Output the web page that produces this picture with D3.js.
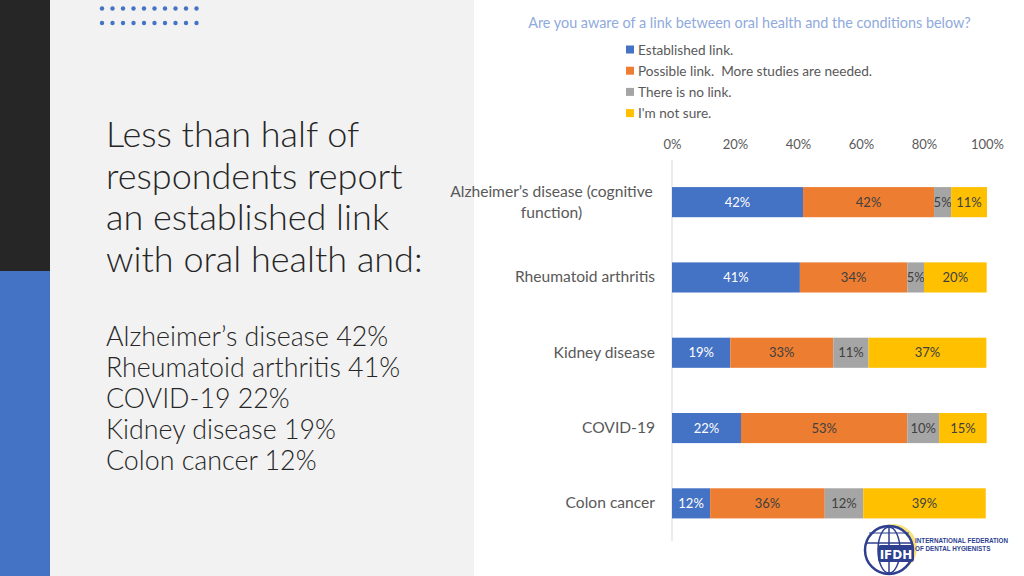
<!DOCTYPE html>
<html><head><meta charset="utf-8">
<script src="https://cdn.jsdelivr.net/npm/d3@7"></script>
<style>body{margin:0;padding:0;background:#fff;overflow:hidden}svg{display:block}text{white-space:pre}</style>
</head><body>
<svg id="c" width="1024" height="576"></svg>
<script>
const title = "Are you aware of a link between oral health and the conditions below?";
const categories = ["Alzheimer’s disease (cognitive function)", "Rheumatoid arthritis", "Kidney disease", "COVID-19", "Colon cancer"];
const seriesNames = ["Established link.", "Possible link.  More studies are needed.", "There is no link.", "I'm not sure."];
const seriesColors = ["#4472C4", "#ED7D31", "#A5A5A5", "#FFC000"];
const established = [41.6, 40.6, 18.5, 21.9, 12.1];
const possible    = [41.6, 34.1, 32.7, 52.8, 36.4];
const noLink      = [5.4, 5.3, 11.2, 10.1, 12.2];
const notSure     = [11.4, 19.9, 37.4, 15.1, 38.9];
const tickValues = [0, 20, 40, 60, 80, 100];
const headline = ["Less than half of", "respondents report", "an established link", "with oral health and:"];
const summary = ["Alzheimer’s disease 42%", "Rheumatoid arthritis 41%", "COVID-19 22%", "Kidney disease 19%", "Colon cancer 12%"];

const svg = d3.select("#c");
const FONT = "Lato, 'Open Sans', sans-serif";

// Background panels
svg.append("rect").attr("x",0).attr("y",0).attr("width",1024).attr("height",576).attr("fill","#ffffff");
svg.append("rect").attr("x",50).attr("y",0).attr("width",424).attr("height",576).attr("fill","#f2f2f2");
svg.append("rect").attr("x",0).attr("y",0).attr("width",50).attr("height",271).attr("fill","#262626");
svg.append("rect").attr("x",0).attr("y",271).attr("width",50).attr("height",305).attr("fill","#4472C4");

// Decorative dots
const dotCols = d3.range(10), dotRows = d3.range(2);
const dx = d3.scaleLinear().domain([0,9]).range([102,196.5]);
const dy = d3.scaleLinear().domain([0,1]).range([8.5,23]);
dotRows.forEach(r => {
  svg.append("g").selectAll("circle").data(dotCols).join("circle")
    .attr("cx", d => dx(d)).attr("cy", dy(r)).attr("r", 2.2).attr("fill", "#4472C4");
});

// Left text
const lt = svg.append("g").attr("font-family", FONT).attr("fill", "#262626").attr("font-weight", 300);
lt.selectAll("text.h").data(headline).join("text").attr("class","h")
  .attr("x", 106).attr("y", (d,i) => 147 + i*41.5).attr("font-size", 36).text(d => d);
lt.selectAll("text.s").data(summary).join("text").attr("class","s")
  .attr("x", 106).attr("y", (d,i) => 346 + i*31).attr("font-size", 26.8).text(d => d);

// Chart
const x = d3.scaleLinear().domain([0,100]).range([672,987]);
const y = d3.scaleBand().domain(categories).range([164.5, 541]).paddingInner(0.6).paddingOuter(0.3);

svg.append("text").attr("x", 749.5).attr("y", 28).attr("text-anchor","middle")
  .attr("font-family", FONT).attr("font-size", 14.4).attr("fill", "#8FAADC").text(title);

// Legend
const lg = svg.append("g").attr("font-family", FONT).attr("font-size", 13.6).attr("fill", "#595959");
seriesNames.forEach((n,i) => {
  const yy = 50 + i*21.2;
  lg.append("rect").attr("x", 626).attr("y", yy-4.5).attr("width", 8).attr("height", 8).attr("fill", seriesColors[i]);
  lg.append("text").attr("x", 638).attr("y", yy+4.8).text(n);
});

// Top axis
const axis = d3.axisTop(x).tickValues(tickValues).tickFormat(d => d + "%").tickSize(0).tickPadding(0);
const ag = svg.append("g").attr("transform", "translate(0,149)").call(axis);
ag.select(".domain").remove();
ag.selectAll("text").attr("font-family", FONT).attr("font-size", 13).attr("fill", "#595959");

// Vertical category axis line
svg.append("line").attr("x1", 672).attr("x2", 672).attr("y1", 160).attr("y2", 541)
  .attr("stroke", "#d9d9d9").attr("stroke-width", 1);

// Stack
const rows = categories.map((c,i) => ({cat: c, v: [established[i], possible[i], noLink[i], notSure[i]]}));
const keys = [0,1,2,3];
const stack = d3.stack().keys(keys).value((d,k) => d.v[k]);
const layers = stack(rows);

layers.forEach((layer, k) => {
  const g = svg.append("g");
  g.selectAll("rect").data(layer).join("rect")
    .attr("x", d => x(d[0])).attr("width", d => x(d[1]) - x(d[0]))
    .attr("y", d => y(d.data.cat)).attr("height", y.bandwidth())
    .attr("fill", seriesColors[k]);
  g.selectAll("text").data(layer).join("text")
    .attr("x", d => (x(d[0]) + x(d[1]))/2).attr("y", d => y(d.data.cat) + y.bandwidth()/2 + 4.5)
    .attr("text-anchor", "middle").attr("font-family", FONT).attr("font-size", 13)
    .attr("fill", k === 0 ? "#ffffff" : "#404040")
    .text(d => Math.round(d.data.v[k]) + "%");
});

// Category labels
const cg = svg.append("g").attr("font-family", FONT).attr("font-size", 15.6).attr("fill", "#595959");
categories.forEach((c, i) => {
  const cy = y(c) + y.bandwidth()/2;
  if (i === 0) {
    const t = cg.append("text").attr("text-anchor","middle");
    t.append("tspan").attr("x", 551.5).attr("y", cy - 5).text("Alzheimer’s disease (cognitive");
    t.append("tspan").attr("x", 551.5).attr("y", cy + 15.5).text("function)");
  } else {
    cg.append("text").attr("text-anchor","end").attr("x", 655).attr("y", cy + 5).text(c);
  }
});

// Logo
const logo = svg.append("g");
logo.append("circle").attr("cx", 893).attr("cy", 548).attr("r", 24).attr("fill", "#f7e27a");
logo.append("circle").attr("cx", 889).attr("cy", 550).attr("r", 24).attr("fill", "#ffffff").attr("stroke", "#2e3f8f").attr("stroke-width", 2.5);
logo.append("ellipse").attr("cx", 889).attr("cy", 550).attr("rx", 11).attr("ry", 23).attr("fill", "none").attr("stroke", "#2e3f8f").attr("stroke-width", 1.5);
logo.append("line").attr("x1", 866).attr("x2", 912).attr("y1", 543).attr("y2", 543).attr("stroke", "#2e3f8f").attr("stroke-width", 1.5);
logo.append("line").attr("x1", 869).attr("x2", 909).attr("y1", 533).attr("y2", 533).attr("stroke", "#2e3f8f").attr("stroke-width", 1.2);
logo.append("line").attr("x1", 889).attr("x2", 889).attr("y1", 527).attr("y2", 573).attr("stroke", "#2e3f8f").attr("stroke-width", 1.5);
logo.append("rect").attr("x", 878).attr("y", 545).attr("width", 36).attr("height", 17).attr("rx", 3).attr("fill", "#2e3f8f");
logo.append("text").attr("x", 896).attr("y", 559).attr("text-anchor","middle").attr("font-family","'DejaVu Sans', sans-serif").attr("font-weight", "bold").attr("font-size", 12).attr("fill", "#ffffff").text("IFDH");
logo.append("text").attr("x", 915).attr("y", 543).attr("font-family","'Liberation Sans', sans-serif").attr("font-weight","bold").attr("font-size", 6.3).attr("fill", "#2e3f8f").text("INTERNATIONAL FEDERATION");
logo.append("text").attr("x", 915).attr("y", 551).attr("font-family","'Liberation Sans', sans-serif").attr("font-weight","bold").attr("font-size", 6.3).attr("fill", "#2e3f8f").text("OF DENTAL HYGIENISTS");
</script>
</body></html>
